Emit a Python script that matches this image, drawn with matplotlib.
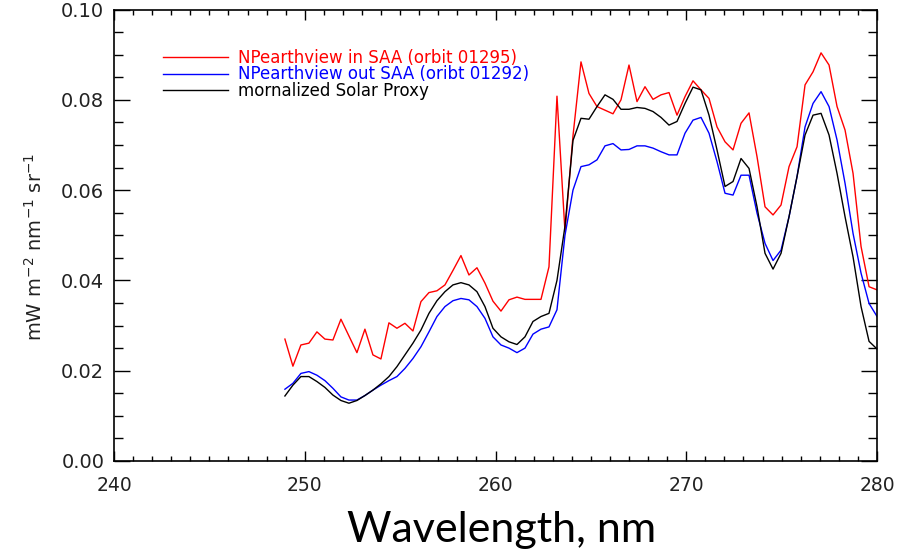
import numpy as np
import matplotlib
matplotlib.use("Agg")
import matplotlib.pyplot as plt
from matplotlib.ticker import MultipleLocator, FormatStrFormatter

# wavelength grid (nm): first sample and spectral sampling
wl_start = 248.96
wl_step = 0.4195
n_points = 75
wavelength = wl_start + wl_step * np.arange(n_points)

in_saa = [0.0270, 0.0210, 0.0257, 0.0261, 0.0286, 0.0270, 0.0268, 0.0314, 0.0277, 0.0240,
          0.0292, 0.0235, 0.0226, 0.0306, 0.0294, 0.0305, 0.0288, 0.0353, 0.0373, 0.0377,
          0.0390, 0.0422, 0.0455, 0.0412, 0.0428, 0.0394, 0.0354, 0.0332, 0.0357, 0.0363,
          0.0358, 0.0358, 0.0358, 0.0430, 0.0808, 0.0508, 0.0720, 0.0884, 0.0814, 0.0785,
          0.0777, 0.0769, 0.0800, 0.0877, 0.0796, 0.0829, 0.0801, 0.0811, 0.0816, 0.0766,
          0.0807, 0.0842, 0.0822, 0.0803, 0.0740, 0.0707, 0.0689, 0.0748, 0.0771, 0.0674,
          0.0563, 0.0545, 0.0567, 0.0652, 0.0696, 0.0833, 0.0862, 0.0904, 0.0877, 0.0785,
          0.0733, 0.0637, 0.0475, 0.0386, 0.0379]

out_saa = [0.0159, 0.0172, 0.0194, 0.0198, 0.0190, 0.0178, 0.0161, 0.0142, 0.0135, 0.0135,
           0.0145, 0.0157, 0.0168, 0.0178, 0.0187, 0.0205, 0.0227, 0.0253, 0.0286, 0.0320,
           0.0342, 0.0355, 0.0360, 0.0357, 0.0342, 0.0316, 0.0275, 0.0257, 0.0250, 0.0240,
           0.0250, 0.0281, 0.0292, 0.0297, 0.0335, 0.0500, 0.0600, 0.0652, 0.0656, 0.0667,
           0.0698, 0.0703, 0.0689, 0.0690, 0.0698, 0.0698, 0.0693, 0.0685, 0.0678, 0.0678,
           0.0726, 0.0755, 0.0761, 0.0726, 0.0663, 0.0593, 0.0589, 0.0633, 0.0633, 0.0549,
           0.0482, 0.0444, 0.0467, 0.0541, 0.0630, 0.0740, 0.0792, 0.0818, 0.0785, 0.0711,
           0.0615, 0.0504, 0.0416, 0.0349, 0.0320]

solar_proxy = [0.0144, 0.0168, 0.0187, 0.0187, 0.0176, 0.0163, 0.0146, 0.0134, 0.0128, 0.0134,
               0.0145, 0.0157, 0.0171, 0.0187, 0.0209, 0.0235, 0.0261, 0.0290, 0.0327, 0.0355,
               0.0375, 0.0390, 0.0395, 0.0390, 0.0375, 0.0342, 0.0294, 0.0275, 0.0264, 0.0258,
               0.0275, 0.0309, 0.0320, 0.0327, 0.0400, 0.0520, 0.0710, 0.0759, 0.0757, 0.0785,
               0.0811, 0.0801, 0.0779, 0.0779, 0.0783, 0.0781, 0.0774, 0.0761, 0.0744, 0.0752,
               0.0792, 0.0828, 0.0822, 0.0766, 0.0689, 0.0608, 0.0619, 0.0670, 0.0648, 0.0563,
               0.0460, 0.0425, 0.0460, 0.0541, 0.0630, 0.0722, 0.0766, 0.0770, 0.0722, 0.0637,
               0.0541, 0.0452, 0.0342, 0.0265, 0.0248]

labels = ["NPearthview in SAA (orbit 01295)",
          "NPearthview out SAA (oribt 01292)",
          "mornalized Solar Proxy"]
colors = ["#ff0000", "#0000ff", "#000000"]

fig = plt.figure(figsize=(9.11, 5.51), dpi=100)
ax = fig.add_axes([114 / 911, 1 - 461 / 551, 763 / 911, 451.5 / 551])

for series, lab, col in zip([in_saa, out_saa, solar_proxy], labels, colors):
    ax.plot(wavelength, series, color=col, lw=1.0, label=lab)

ax.set_xlim(240, 280)
ax.set_ylim(0.0, 0.10)
ax.xaxis.set_major_locator(MultipleLocator(10))
ax.xaxis.set_minor_locator(MultipleLocator(1))
ax.yaxis.set_major_locator(MultipleLocator(0.02))
ax.yaxis.set_minor_locator(MultipleLocator(0.005))
ax.yaxis.set_major_formatter(FormatStrFormatter("%.2f"))

ax.tick_params(axis="x", which="major", direction="in", length=7.2, width=1.0,
               top=True, labelsize=13.5, pad=11)
ax.tick_params(axis="x", which="minor", direction="in", length=3.6, width=1.0, top=True)
ax.tick_params(axis="y", which="major", direction="in", length=11.5, width=1.0,
               right=True, labelsize=14, pad=7)
ax.tick_params(axis="y", which="minor", direction="in", length=6.5, width=1.0, right=True)
for lbl in ax.get_xticklabels() + ax.get_yticklabels():
    lbl.set_color("#222222")

for s in ax.spines.values():
    s.set_linewidth(1.2)

ax.set_ylabel(r"mW m$^{-2}$ nm$^{-1}$ sr$^{-1}$", fontsize=14, color="#222222")
ax.yaxis.set_label_coords(-0.089, 0.474)

ax.set_xlabel("Wavelength, nm", fontsize=31, family="Lato")
ax.xaxis.set_label_coords((502 - 114) / 763, -0.110)
ax.xaxis.label.set_va("top")

leg = ax.legend(loc="upper left", bbox_to_anchor=(0.055, 0.927), frameon=False,
                fontsize=12, handlelength=3.9, handletextpad=0.6,
                labelspacing=-0.1, borderaxespad=0)
for txt, col in zip(leg.get_texts(), colors):
    txt.set_color(col)

fig.savefig("out.png", dpi=100)
